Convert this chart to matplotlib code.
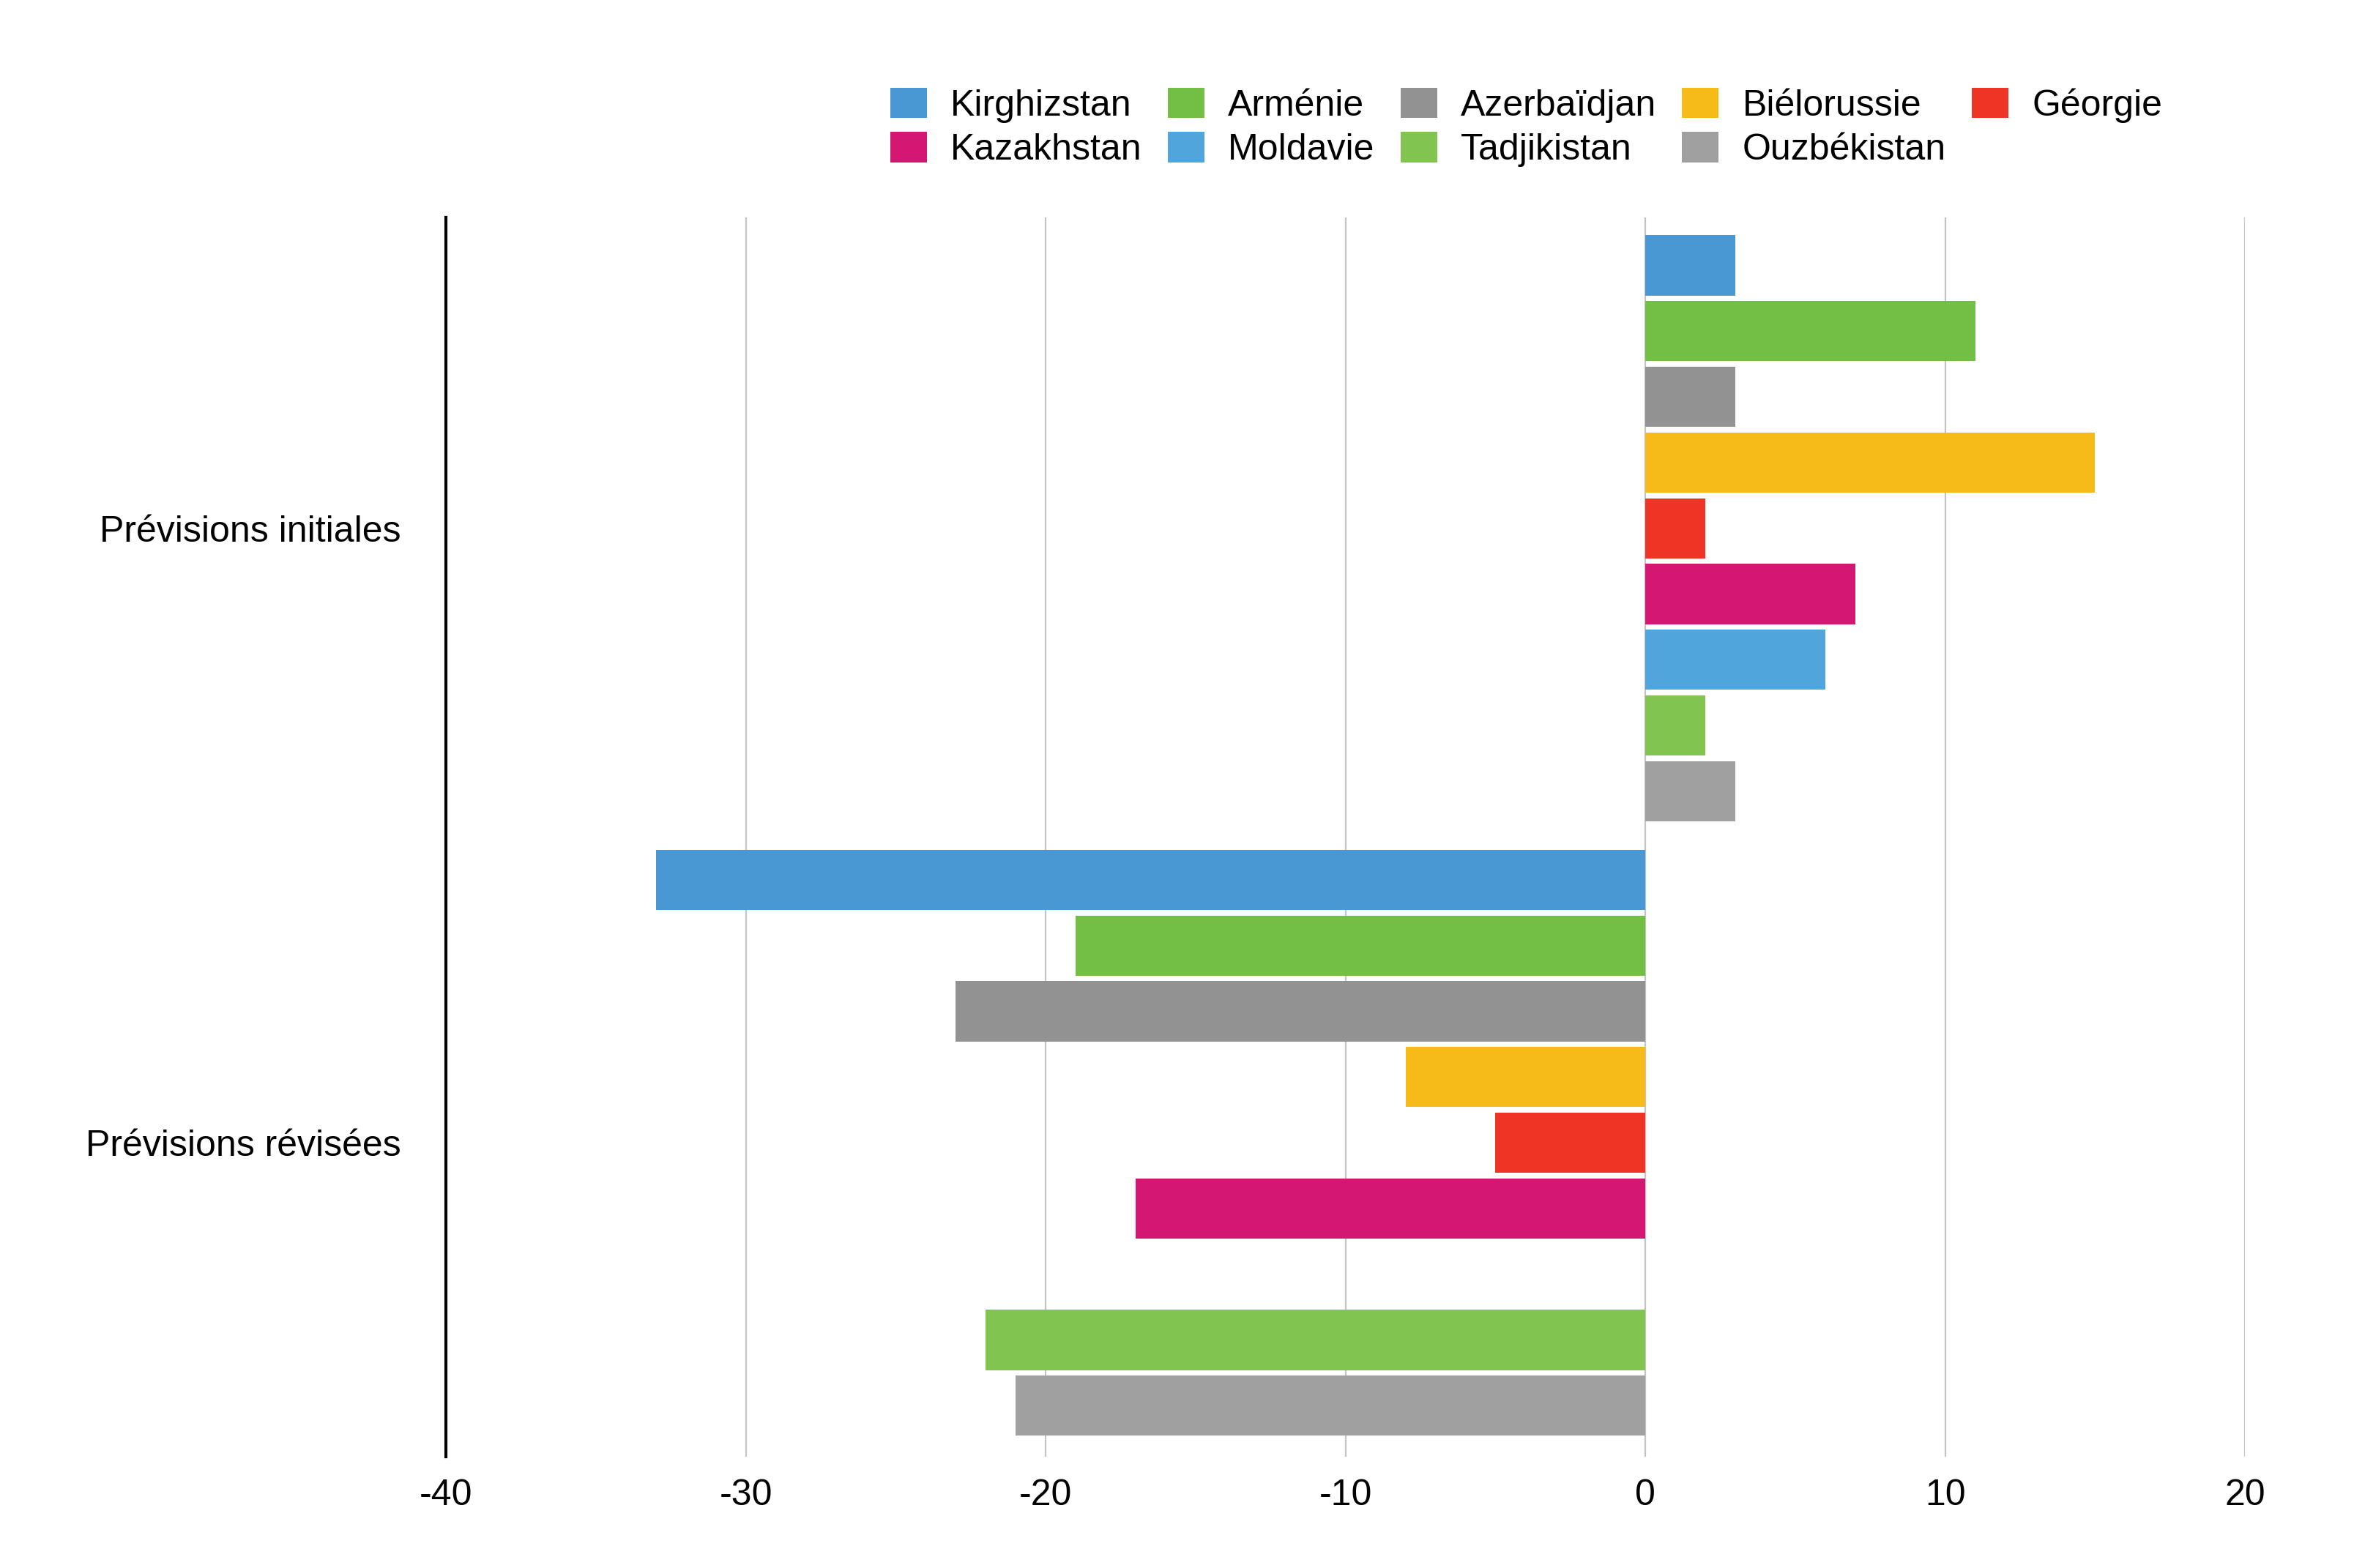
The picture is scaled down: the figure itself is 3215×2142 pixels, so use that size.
import numpy as np
import matplotlib.pyplot as plt
from matplotlib.patches import Patch

plt.rcParams['font.family'] = ['Liberation Sans', 'DejaVu Sans']

# Data
categories = ['Prévisions initiales', 'Prévisions révisées']
countries = ['Kirghizstan', 'Arménie', 'Azerbaïdjan', 'Biélorussie', 'Géorgie',
             'Kazakhstan', 'Moldavie', 'Tadjikistan', 'Ouzbékistan']
initial = [3, 11, 3, 15, 2, 7, 6, 2, 3]
revised = [-33, -19, -23, -8, -5, -17, np.nan, -22, -21]
colors = ['#4a98d3', '#73bf45', '#929292', '#f7bb19', '#ee3424',
          '#d41773', '#50a5dc', '#82c450', '#a0a0a0']
x_ticks = [-40, -30, -20, -10, 0, 10, 20]

fig = plt.figure(figsize=(16.08, 10.71), dpi=200)
ax = fig.add_axes([0.1894, 0.0710, 0.9534 - 0.1894, 0.8613 - 0.0710])

slot = 0.107
bar_h = 0.098
ypos = np.arange(len(categories))
n = len(countries)
for i, name in enumerate(countries):
    vals = [initial[i], revised[i]]
    ax.barh(ypos + (i - (n - 1) / 2) * slot, vals, height=bar_h,
            color=colors[i], zorder=3, label=name)

ax.set_xlim(-40, 20)
ax.set_ylim(1.511, -0.506)
ax.set_xticks(x_ticks)
ax.set_xticklabels([str(t) for t in x_ticks])
ax.set_yticks(ypos)
ax.set_yticklabels(categories)
ax.tick_params(axis='x', length=0, pad=11, labelsize=18)
ax.tick_params(axis='y', length=0, pad=22, labelsize=18)

ax.grid(axis='x', color='#c4c4c4', linewidth=0.8, zorder=0)
for side in ['top', 'right', 'bottom']:
    ax.spines[side].set_visible(False)
ax.spines['left'].set_linewidth(1.5)
ax.spines['left'].set_color('black')

# legend fills row by row in the reference, matplotlib fills by column
handles = [Patch(facecolor=c, edgecolor='none') for c in colors]
order = [0, 5, 1, 6, 2, 7, 3, 8, 4]
fig.legend([handles[k] for k in order], [countries[k] for k in order],
           ncol=5, loc='upper left', bbox_to_anchor=(0.378, 0.944),
           frameon=False, fontsize=18, handlelength=1.0, handleheight=0.9,
           handletextpad=0.65, columnspacing=0.7, labelspacing=0.25,
           borderpad=0, borderaxespad=0)

fig.savefig('out.png', dpi=200, facecolor='white')
